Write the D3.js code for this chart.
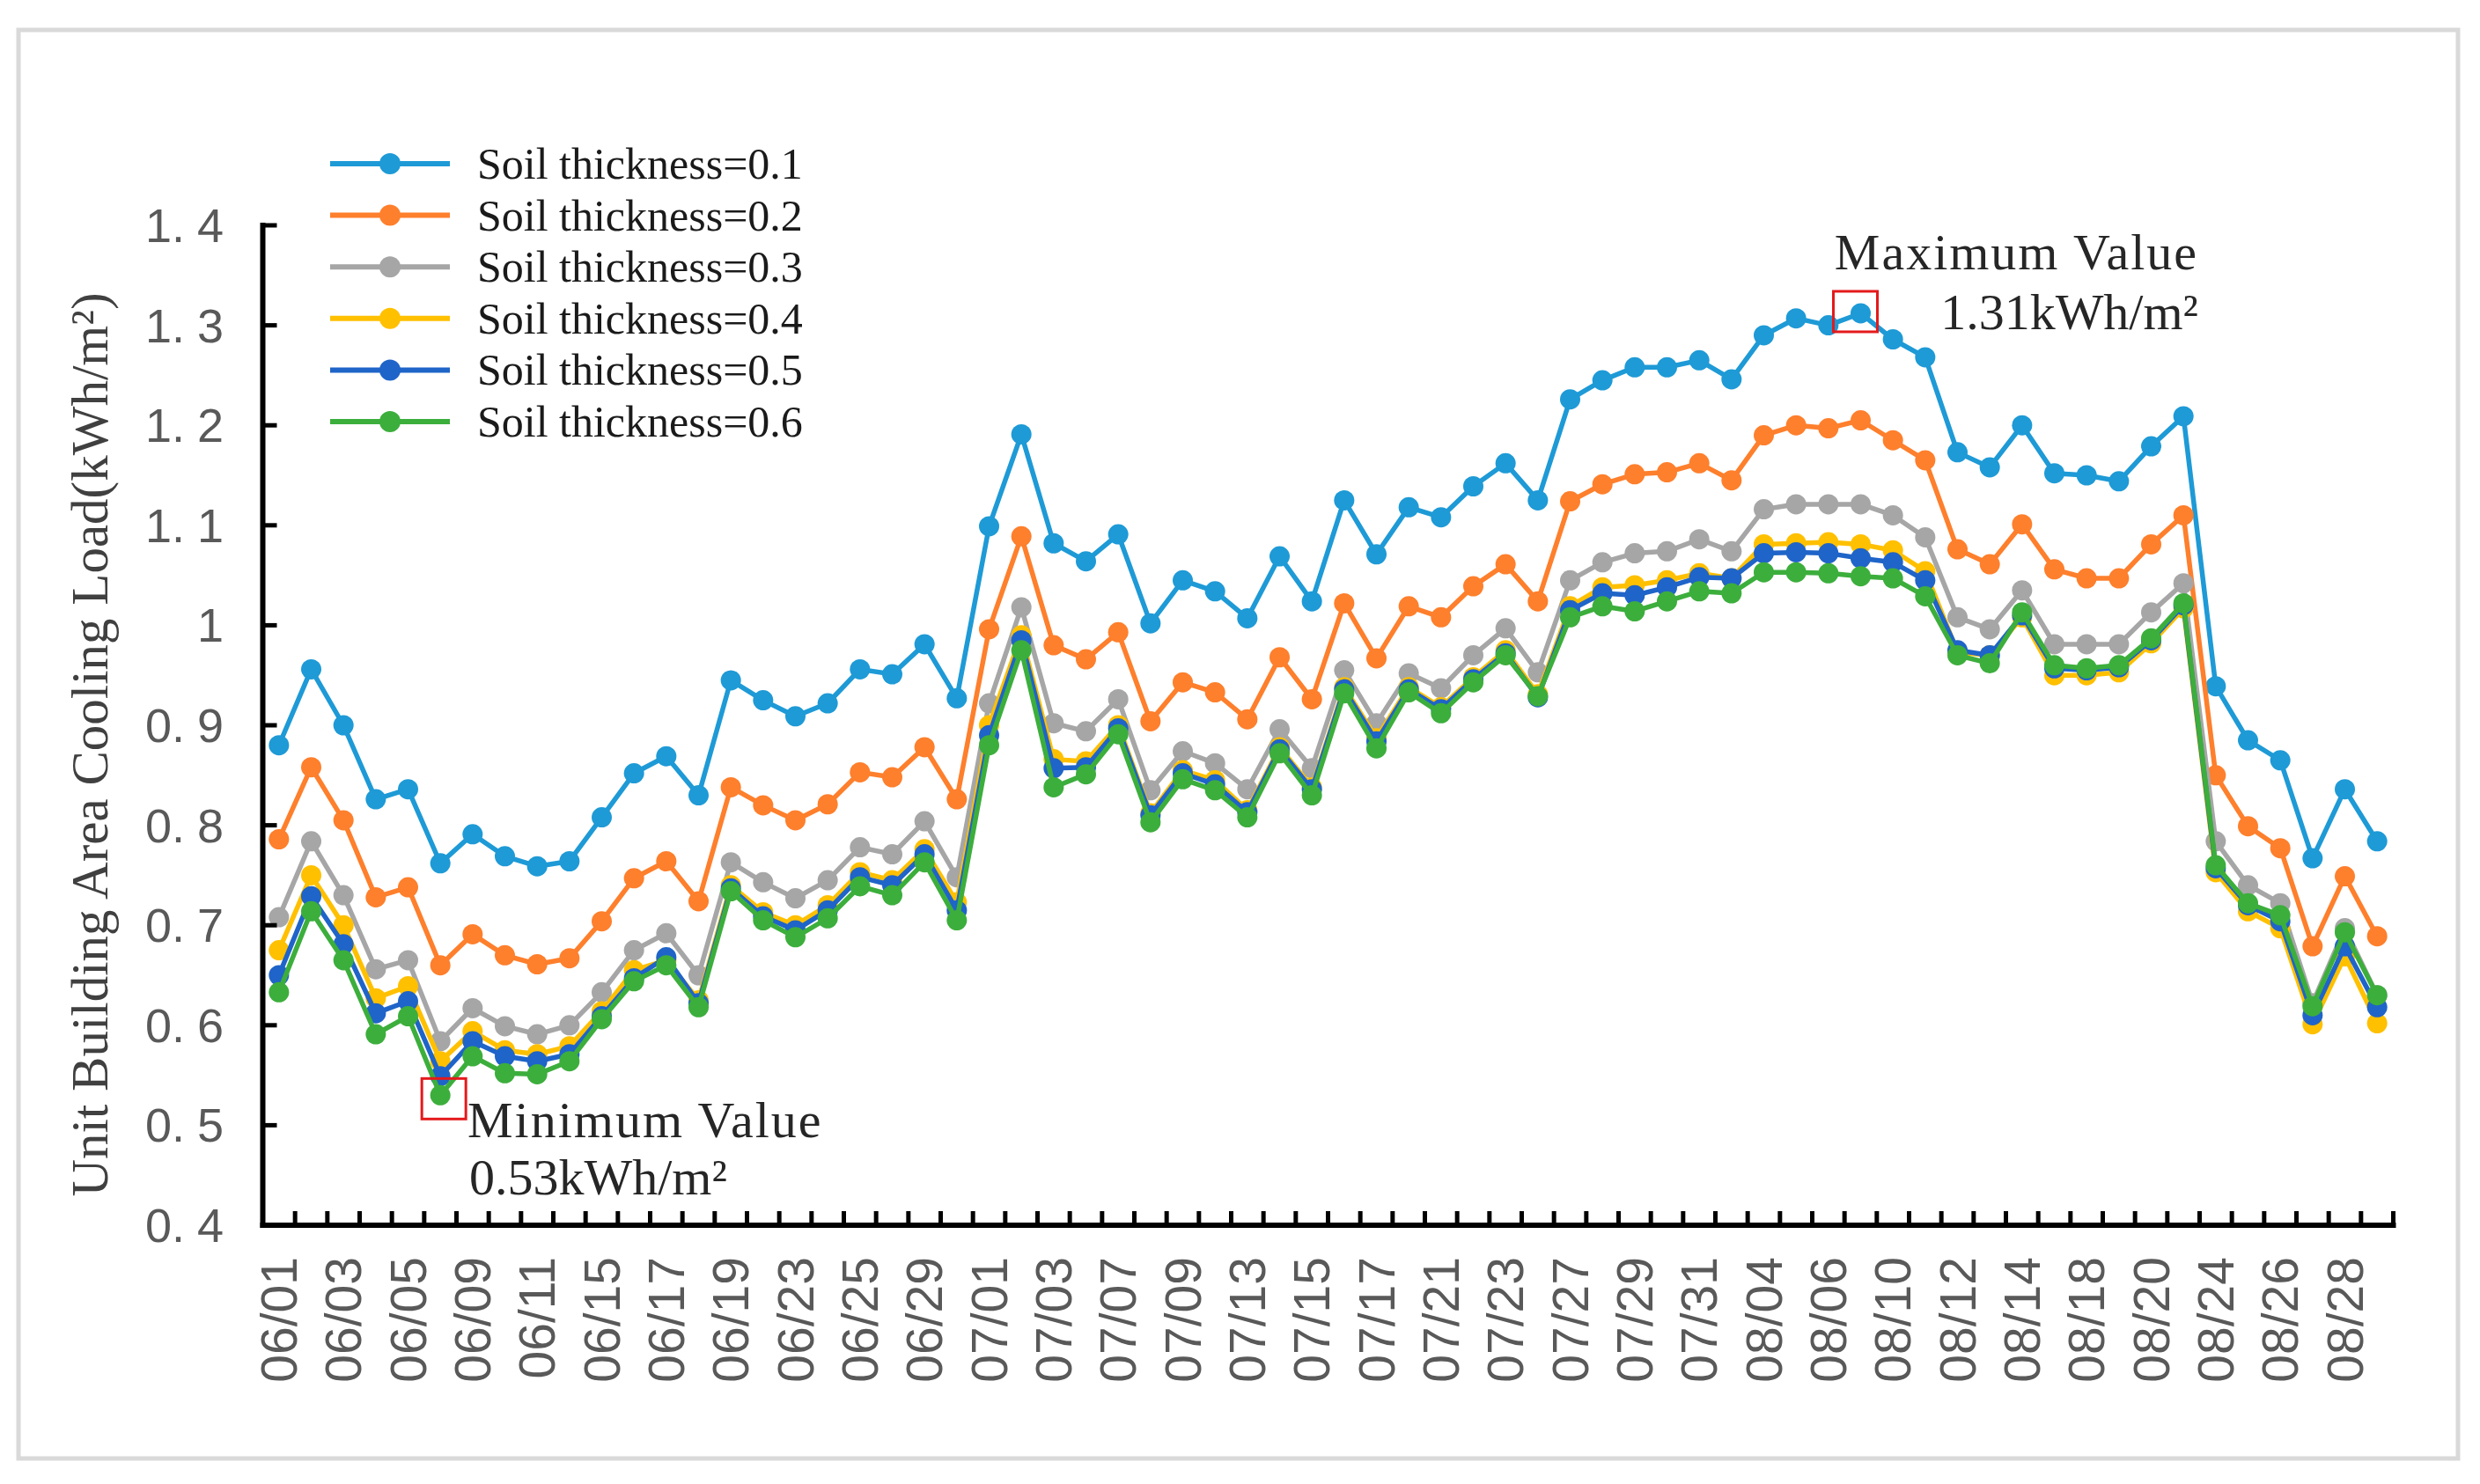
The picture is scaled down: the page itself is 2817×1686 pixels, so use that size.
<!DOCTYPE html>
<html>
<head>
<meta charset="utf-8">
<script src="https://cdn.jsdelivr.net/npm/d3@7"></script>
<style>
  html, body { margin: 0; padding: 0; background: #fff; }
  svg { display: block; }
</style>
</head>
<body>
<svg id="chart" width="2817" height="1686"></svg>
<script>
const dates = ["06/01","06/02","06/03","06/04","06/05","06/08","06/09","06/10","06/11","06/12",
  "06/15","06/16","06/17","06/18","06/19","06/22","06/23","06/24","06/25","06/26","06/29","06/30",
  "07/01","07/02","07/03","07/06","07/07","07/08","07/09","07/10","07/13","07/14","07/15","07/16","07/17",
  "07/20","07/21","07/22","07/23","07/24","07/27","07/28","07/29","07/30","07/31",
  "08/03","08/04","08/05","08/06","08/07","08/10","08/11","08/12","08/13","08/14",
  "08/17","08/18","08/19","08/20","08/21","08/24","08/25","08/26","08/27","08/28","08/31"];

const thickness01 = [0.880,0.956,0.900,0.826,0.836,0.762,0.791,0.769,0.759,0.764,0.808,0.852,0.869,0.830,0.945,0.925,0.909,0.922,0.956,0.951,0.981,0.927,1.099,1.191,1.082,1.064,1.091,1.002,1.045,1.034,1.007,1.069,1.024,1.125,1.071,1.118,1.108,1.139,1.162,1.125,1.226,1.245,1.258,1.258,1.265,1.246,1.290,1.307,1.300,1.312,1.286,1.268,1.173,1.158,1.200,1.152,1.150,1.144,1.179,1.209,0.939,0.885,0.865,0.767,0.836,0.784];
const thickness02 = [0.786,0.858,0.805,0.728,0.738,0.660,0.691,0.670,0.661,0.667,0.704,0.747,0.764,0.724,0.838,0.820,0.805,0.821,0.853,0.848,0.878,0.826,0.996,1.089,0.980,0.966,0.993,0.904,0.943,0.933,0.906,0.968,0.926,1.022,0.967,1.019,1.008,1.039,1.061,1.024,1.124,1.141,1.151,1.153,1.162,1.145,1.190,1.200,1.197,1.205,1.185,1.165,1.076,1.061,1.101,1.056,1.047,1.047,1.081,1.110,0.850,0.799,0.777,0.679,0.749,0.689];
const thickness03 = [0.708,0.784,0.730,0.656,0.665,0.584,0.617,0.599,0.591,0.600,0.633,0.675,0.692,0.650,0.763,0.743,0.727,0.745,0.778,0.771,0.804,0.748,0.922,1.018,0.902,0.894,0.926,0.835,0.874,0.862,0.836,0.896,0.857,0.955,0.902,0.952,0.937,0.970,0.997,0.953,1.045,1.063,1.072,1.074,1.086,1.074,1.116,1.121,1.121,1.121,1.110,1.088,1.008,0.996,1.035,0.981,0.981,0.981,1.013,1.042,0.784,0.740,0.722,0.622,0.697,0.630];
const thickness04 = [0.675,0.750,0.700,0.627,0.639,0.564,0.594,0.575,0.571,0.579,0.614,0.655,0.665,0.625,0.740,0.713,0.700,0.720,0.753,0.745,0.776,0.723,0.900,0.990,0.866,0.864,0.900,0.812,0.855,0.845,0.815,0.878,0.838,0.938,0.887,0.938,0.918,0.948,0.975,0.931,1.019,1.038,1.040,1.045,1.052,1.047,1.081,1.082,1.083,1.081,1.075,1.054,0.973,0.970,1.008,0.950,0.950,0.953,0.982,1.017,0.753,0.714,0.697,0.601,0.669,0.602];
const thickness05 = [0.650,0.729,0.681,0.612,0.624,0.549,0.584,0.569,0.564,0.571,0.609,0.647,0.668,0.622,0.737,0.709,0.695,0.715,0.748,0.740,0.771,0.715,0.890,0.985,0.857,0.858,0.897,0.810,0.852,0.841,0.813,0.876,0.836,0.936,0.884,0.936,0.916,0.946,0.972,0.928,1.015,1.032,1.030,1.038,1.048,1.047,1.072,1.073,1.072,1.067,1.063,1.045,0.975,0.970,1.010,0.957,0.955,0.958,0.985,1.020,0.757,0.720,0.704,0.610,0.679,0.618];
const thickness06 = [0.633,0.714,0.665,0.591,0.609,0.530,0.569,0.552,0.551,0.564,0.606,0.644,0.660,0.618,0.734,0.705,0.688,0.707,0.739,0.730,0.763,0.705,0.880,0.975,0.838,0.851,0.891,0.803,0.846,0.835,0.808,0.872,0.830,0.932,0.877,0.933,0.912,0.943,0.970,0.929,1.008,1.019,1.014,1.024,1.034,1.032,1.053,1.053,1.052,1.049,1.047,1.029,0.970,0.962,1.013,0.960,0.957,0.960,0.987,1.022,0.760,0.722,0.710,0.619,0.693,0.630];

const seriesNames = ["Soil thickness=0.1","Soil thickness=0.2","Soil thickness=0.3","Soil thickness=0.4","Soil thickness=0.5","Soil thickness=0.6"];
const seriesValues = [thickness01, thickness02, thickness03, thickness04, thickness05, thickness06];
const seriesColors = ["#1e9ad6","#fe7f2c","#a6a6a6","#ffc000","#1f64c8","#3cae3c"];
const yTicks = [0.4,0.5,0.6,0.7,0.8,0.9,1.0,1.1,1.2,1.3,1.4];
const yTitle = "Unit Building Area Cooling Load(kWh/m\u00B2)";
const minNote = ["Minimum Value","0.53kWh/m\u00B2"];
const maxNote = ["Maximum Value","1.31kWh/m\u00B2"];

const svg = d3.select("#chart");
const serif = "'Liberation Serif','DejaVu Serif',serif";
const sans = "'Liberation Sans','DejaVu Sans',sans-serif";

// outer frame
svg.append("rect").attr("x",21).attr("y",34).attr("width",2771).attr("height",1623)
  .attr("fill","#fff").attr("stroke","#d9d9d9").attr("stroke-width",5);

const x = d3.scaleBand().domain(dates).range([298.5, 2718.5]).padding(0);
const y = d3.scaleLinear().domain([0.4, 1.4]).range([1392, 256]);
const cx = d => x(d) + x.bandwidth()/2;

// lines and markers
const line = d3.line().x((v,i) => cx(dates[i])).y(v => y(v));
seriesValues.forEach((vals, s) => {
  const g = svg.append("g");
  g.append("path").datum(vals).attr("d", line).attr("fill","none")
    .attr("stroke", seriesColors[s]).attr("stroke-width",5.5).attr("stroke-linejoin","round");
  g.selectAll("circle").data(vals).join("circle")
    .attr("cx",(v,i)=>cx(dates[i])).attr("cy",v=>y(v)).attr("r",11.5).attr("fill",seriesColors[s]);
});

// y axis
const yAxis = svg.append("g");
yAxis.append("line").attr("x1",x.range()[0]).attr("x2",x.range()[0])
  .attr("y1",y(1.4)-3).attr("y2",y(0.4)+3).attr("stroke","#000").attr("stroke-width",6);
yTicks.forEach(t => {
  yAxis.append("line").attr("x1",x.range()[0]).attr("x2",x.range()[0]+16)
    .attr("y1",y(t)).attr("y2",y(t)).attr("stroke","#000").attr("stroke-width",5);
  const txt = yAxis.append("text").attr("x",254).attr("y",y(t)).attr("text-anchor","end")
    .attr("dominant-baseline","central").attr("font-family",sans).attr("font-size",54)
    .attr("fill","#595959");
  const s = d3.format(".1f")(t);
  if (t === 1.0) { txt.text("1"); }
  else {
    const parts = s.split(".");
    txt.append("tspan").text(parts[0] + ".");
    txt.append("tspan").attr("dx", 14).text(parts[1]);
  }
});

// x axis
const xAxis = svg.append("g");
xAxis.append("line").attr("x1",x.range()[0]-3).attr("x2",x.range()[1]+3)
  .attr("y1",y(0.4)).attr("y2",y(0.4)).attr("stroke","#000").attr("stroke-width",6);
const bounds = dates.map(d => x(d)).concat([x.range()[1]]);
bounds.forEach(b => {
  xAxis.append("line").attr("x1",b).attr("x2",b).attr("y1",y(0.4)).attr("y2",y(0.4)-16)
    .attr("stroke","#000").attr("stroke-width",5);
});
dates.forEach((d,i) => {
  if (i % 2 !== 0) return;
  xAxis.append("text").attr("transform",`translate(${cx(d)},1428) rotate(-90)`)
    .attr("text-anchor","end").attr("dominant-baseline","central")
    .attr("font-family",sans).attr("font-size",57).attr("fill","#595959").text(d);
});

// y title
svg.append("text").attr("transform","translate(122,846) rotate(-90)")
  .attr("text-anchor","middle").attr("font-family",serif).attr("font-size",59)
  .attr("fill","#404040").text(yTitle);

// legend
seriesNames.forEach((n, s) => {
  const ly = 186 + s*58.6;
  svg.append("line").attr("x1",375).attr("x2",511).attr("y1",ly).attr("y2",ly)
    .attr("stroke",seriesColors[s]).attr("stroke-width",6);
  svg.append("circle").attr("cx",443).attr("cy",ly).attr("r",12).attr("fill",seriesColors[s]);
  svg.append("text").attr("x",542).attr("y",ly).attr("dominant-baseline","central")
    .attr("font-family",serif).attr("font-size",50).attr("fill","#1a1a1a").text(n);
});

// min / max annotations
const minIdx = thickness06.indexOf(d3.min(thickness06));
const maxIdx = thickness01.indexOf(d3.max(thickness01));
const minX = cx(dates[minIdx]), minY = y(thickness06[minIdx]);
const maxX = cx(dates[maxIdx]), maxY = y(thickness01[maxIdx]);
svg.append("rect").attr("x",minX+4-25).attr("y",minY+4-23).attr("width",50).attr("height",46)
  .attr("fill","none").attr("stroke","#e41a1c").attr("stroke-width",3);
svg.append("rect").attr("x",maxX-6-25).attr("y",maxY-2-23).attr("width",50).attr("height",46)
  .attr("fill","none").attr("stroke","#e41a1c").attr("stroke-width",3);

svg.append("text").attr("x",531).attr("y",1292).attr("font-family",serif).attr("font-size",58)
  .attr("letter-spacing",2).attr("fill","#262626").text(minNote[0]);
svg.append("text").attr("x",533).attr("y",1357).attr("font-family",serif).attr("font-size",58)
  .attr("fill","#262626").text(minNote[1]);
svg.append("text").attr("x",2497).attr("y",306).attr("text-anchor","end").attr("font-family",serif)
  .attr("font-size",58).attr("letter-spacing",2).attr("fill","#262626").text(maxNote[0]);
svg.append("text").attr("x",2497).attr("y",374).attr("text-anchor","end").attr("font-family",serif)
  .attr("font-size",58).attr("fill","#262626").text(maxNote[1]);
</script>
</body>
</html>
